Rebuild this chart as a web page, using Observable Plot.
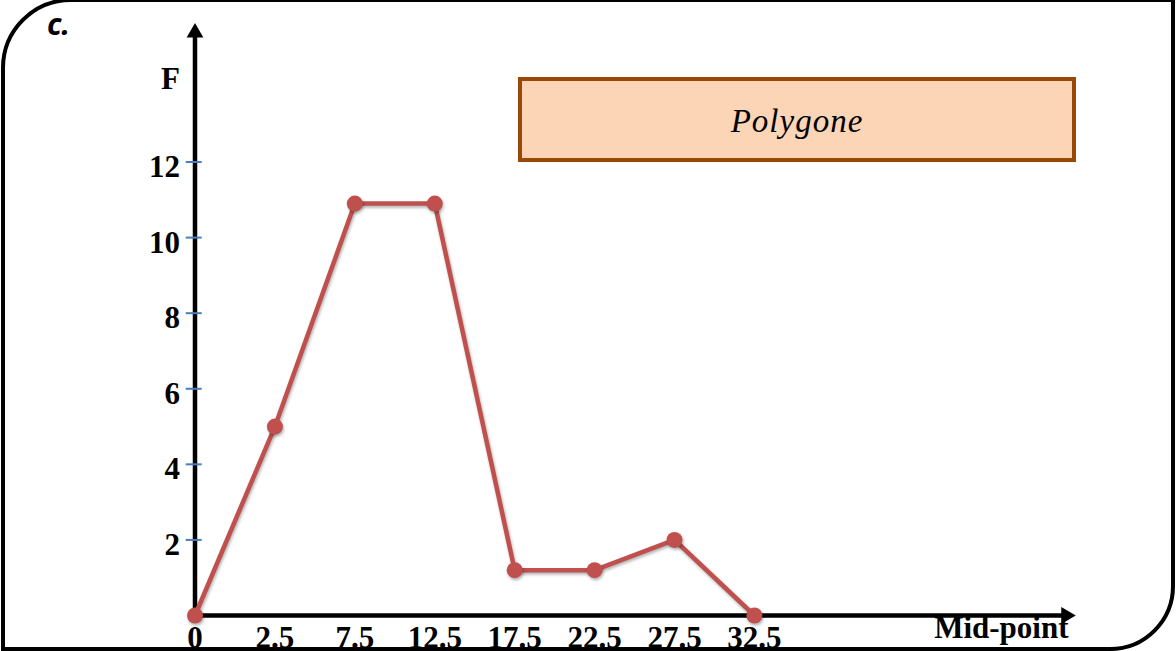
<!DOCTYPE html>
<html>
<head>
<meta charset="utf-8">
<script src="https://cdn.jsdelivr.net/npm/d3@7"></script>
<script src="https://cdn.jsdelivr.net/npm/@observablehq/plot@0.6"></script>
<style>
  html, body { margin: 0; padding: 0; background: #fff; }
  #wrap { position: relative; width: 1176px; height: 651px; overflow: hidden; background: #fff; }
  #chart { position: absolute; left: 0; top: 0; }
  #frame {
    position: absolute; left: 1px; top: -2px; width: 1174px; height: 653px;
    box-sizing: border-box; border: 4px solid #000;
    border-radius: 70px 0 65px 0; pointer-events: none;
  }
  #tag {
    position: absolute; left: 47px; top: 3px;
    font-family: "Noto Sans", sans-serif; font-style: italic; font-weight: bold;
    font-size: 30px; color: #000;
  }
  #legend {
    position: absolute; left: 518px; top: 77px; width: 558px; height: 85px;
    box-sizing: border-box; background: #fbd5b5; border: 4px solid #984807;
    display: flex; align-items: center; justify-content: center;
    font-family: "Liberation Serif", serif; font-style: italic; font-size: 33px;
    letter-spacing: 1px; color: #000; padding-top: 4px;
  }
</style>
</head>
<body>
<div id="wrap">
  <div id="chart"></div>
  <div id="legend">Polygone</div>
  <div id="tag">c.</div>
  <div id="frame"></div>
</div>
<script>
// Data
const midpoints = ["0", "2.5", "7.5", "12.5", "17.5", "22.5", "27.5", "32.5"];
const frequencies = [0, 5, 10.9, 10.9, 1.2, 1.2, 2, 0];
const yTicks = [2, 4, 6, 8, 10, 12];
const xTitle = "Mid-point";
const yTitle = "F";

const data = midpoints.map((m, i) => ({i, m, f: frequencies[i]}));
const xMax = 11.03;
const yMax = 15.745;
const labelFont = "Liberation Serif, serif";
const red = "#c0504d";
const fs = 31;

const chart = Plot.plot({
  width: 1176,
  height: 651,
  marginLeft: 194.5,
  marginRight: 100,
  marginTop: 20,
  marginBottom: 36,
  x: {type: "linear", domain: [0, xMax], axis: null},
  y: {type: "linear", domain: [0, yMax], axis: null},
  marks: [
    // axes lines
    Plot.ruleX([0], {y1: 0, y2: yMax - 0.35, stroke: "#000", strokeWidth: 4.5}),
    Plot.ruleY([0], {x1: -0.03, x2: xMax - 0.15, stroke: "#000", strokeWidth: 4.5}),
    Plot.dot([0], {x: 0, y: yMax - 0.32, symbol: "triangle2", r: 8, fill: "#000", stroke: null}),
    Plot.dot([0], {x: xMax - 0.13, y: 0, symbol: "triangle2", r: 8, fill: "#000", stroke: null, rotate: 90}),
    // tick marks
    Plot.ruleY(yTicks, {x1: -0.11, x2: 0.09, stroke: "#4a7ebb", strokeWidth: 2}),
    // y tick labels
    Plot.text(yTicks, {x: 0, y: d => d, text: d => String(d), dx: -15, dy: 5, textAnchor: "end",
      fontSize: fs, fontWeight: "bold", fontFamily: labelFont, fill: "#000"}),
    // x tick labels
    Plot.text(data, {x: "i", y: 0, text: "m", dy: 23, textAnchor: "middle",
      fontSize: fs, fontWeight: "bold", fontFamily: labelFont, fill: "#000"}),
    // axis titles
    Plot.text([xTitle], {frameAnchor: "bottom-right", text: d => d, dx: -8, dy: 22, textAnchor: "end",
      fontSize: fs, fontWeight: "bold", fontFamily: labelFont, fill: "#000"}),
    Plot.text([yTitle], {frameAnchor: "top-left", text: d => d, dx: -15, dy: 46.5, textAnchor: "end",
      fontSize: fs, fontWeight: "bold", fontFamily: labelFont, fill: "#000"}),
    // polygon
    Plot.line(data, {x: "i", y: "f", stroke: red, strokeWidth: 4.5, className: "poly"}),
    Plot.dot(data, {x: "i", y: "f", r: 8, fill: red, stroke: null, className: "poly"})
  ]
});
document.getElementById("chart").appendChild(chart);
chart.querySelectorAll(".poly").forEach(g => g.style.filter = "drop-shadow(1.5px 2px 1.5px rgba(0,0,0,0.3))");
</script>
</body>
</html>
